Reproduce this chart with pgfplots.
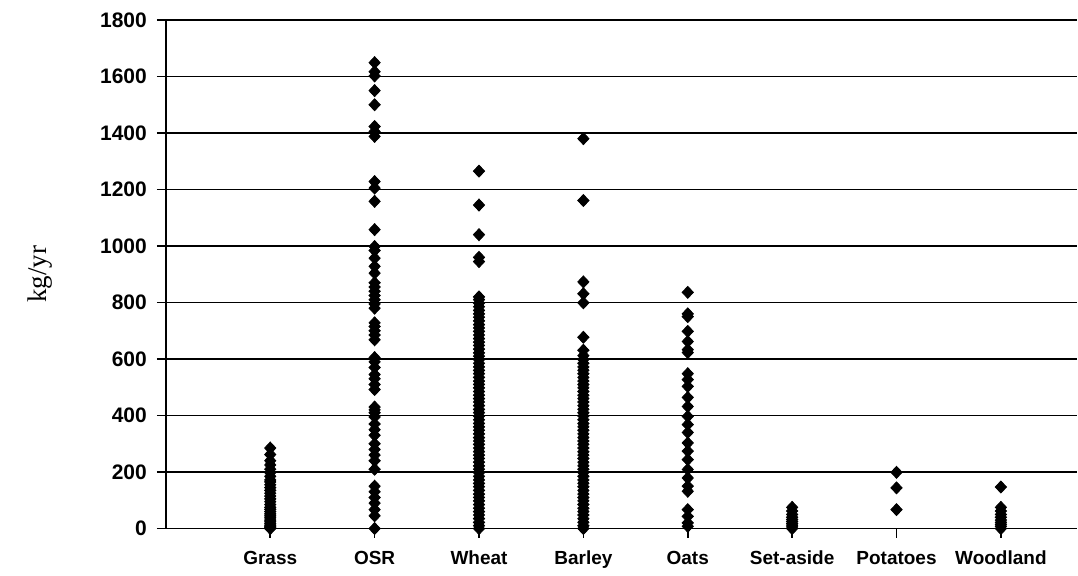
\documentclass[border=0pt]{standalone}
\usepackage{fontspec}
\setmainfont{Liberation Sans}
\newfontfamily\seriffont{Liberation Serif}
\usepackage{pgfplots}
\pgfplotsset{compat=1.18}
\pgfplotsset{dot/.style={black, only marks, mark=diamond*, mark size=3pt, mark options={draw=black, fill=black, xscale=1.25}}}
\begin{document}
\begin{tikzpicture}
\begin{axis}[
  scale only axis,
  width=456pt, height=254.5pt,
  xmin=0, xmax=8.73, ymin=0, ymax=1800,
  ytick distance=200,
  xtick={1,2,3,4,5,6,7,8},
  xticklabels={Grass,OSR,Wheat,Barley,Oats,Set-aside,Potatoes,Woodland},
  axis x line=bottom, axis y line=left,
  x axis line style={-, line width=0.9pt},
  y axis line style={-, line width=0.9pt},
  tick align=outside,
  major tick length=4.5pt,
  tick style={black, line width=0.8pt},
  ymajorgrids,
  grid style={black, line width=0.8pt},
  /pgf/number format/assume math mode=true,
  /pgf/number format/1000 sep={},
  yticklabel style={font=\bfseries\fontsize{10.5}{12}\selectfont, xshift=-1.5pt},
  xticklabel style={font=\bfseries\fontsize{9.5}{11}\selectfont, yshift=-3pt, text height=7pt, text depth=2pt},
  ylabel={\seriffont kg/yr},
  ylabel style={font=\fontsize{13.5}{15}\selectfont, at={(axis description cs:-0.138,0.5)}, anchor=center},
  clip=false,
]
\coordinate (bl) at (rel axis cs:0,0);
\coordinate (tr) at (rel axis cs:1,1);
% Grass
\addplot[dot] coordinates {(1,285)(1,262)(1,240)(1,225)(1,210)(1,198)(1,185)(1,172)(1,165)(1,155)(1,145)(1,135)(1,125)(1,115)(1,105)(1,95)(1,85)(1,75)(1,68)(1,60)(1,52)(1,45)(1,38)(1,30)(1,24)(1,18)(1,12)(1,8)(1,4)(1,0)};
% OSR
\addplot[dot] coordinates {(2,1649)(2,1617)(2,1602)(2,1550)(2,1500)(2,1423)(2,1405)(2,1388)(2,1228)(2,1205)(2,1158)(2,1058)(2,998)(2,984)(2,957)(2,928)(2,904)(2,870)(2,855)(2,840)(2,825)(2,810)(2,795)(2,780)(2,728)(2,715)(2,700)(2,685)(2,668)(2,605)(2,590)(2,570)(2,545)(2,530)(2,510)(2,492)(2,430)(2,420)(2,410)(2,395)(2,370)(2,350)(2,330)(2,300)(2,280)(2,260)(2,240)(2,210)(2,150)(2,130)(2,110)(2,90)(2,67)(2,45)(2,0)};
% Wheat
\addplot[dot] coordinates {(3,1265)(3,1145)(3,1040)(3,960)(3,945)(3,820)(3,810)(3,798)(3,785)(3,772)(3,760)(3,748)(3,735)(3,722)(3,710)(3,698)(3,685)(3,672)(3,660)(3,648)(3,635)(3,622)(3,610)(3,598)(3,585)(3,572)(3,560)(3,548)(3,535)(3,522)(3,510)(3,498)(3,485)(3,472)(3,460)(3,448)(3,435)(3,422)(3,410)(3,398)(3,385)(3,372)(3,360)(3,348)(3,335)(3,322)(3,310)(3,298)(3,285)(3,272)(3,260)(3,248)(3,235)(3,222)(3,210)(3,198)(3,185)(3,172)(3,160)(3,148)(3,135)(3,122)(3,110)(3,98)(3,85)(3,72)(3,60)(3,48)(3,35)(3,22)(3,10)(3,0)};
% Barley
\addplot[dot] coordinates {(4,1380)(4,1161)(4,873)(4,831)(4,799)(4,677)(4,631)(4,612)(4,598)(4,585)(4,572)(4,560)(4,548)(4,535)(4,522)(4,510)(4,498)(4,485)(4,472)(4,460)(4,448)(4,435)(4,422)(4,410)(4,398)(4,385)(4,372)(4,360)(4,348)(4,335)(4,322)(4,310)(4,298)(4,285)(4,272)(4,260)(4,248)(4,235)(4,222)(4,210)(4,198)(4,185)(4,172)(4,160)(4,148)(4,135)(4,122)(4,110)(4,98)(4,85)(4,72)(4,60)(4,48)(4,35)(4,22)(4,10)(4,0)};
% Oats
\addplot[dot] coordinates {(5,836)(5,760)(5,750)(5,698)(5,662)(5,633)(5,623)(5,548)(5,527)(5,503)(5,464)(5,432)(5,397)(5,368)(5,340)(5,303)(5,274)(5,244)(5,209)(5,179)(5,150)(5,132)(5,67)(5,43)(5,20)(5,8)};
% Set-aside
\addplot[dot] coordinates {(6,75)(6,62)(6,50)(6,40)(6,32)(6,25)(6,18)(6,12)(6,6)(6,0)};
% Potatoes
\addplot[dot] coordinates {(7,199)(7,144)(7,67)};
% Woodland
\addplot[dot] coordinates {(8,147)(8,75)(8,62)(8,50)(8,40)(8,30)(8,22)(8,15)(8,8)(8,0)};
\end{axis}
\path ([shift={(-83pt,-21.5pt)}]bl) rectangle ([shift={(0pt,10pt)}]tr);
\end{tikzpicture}
\end{document}
